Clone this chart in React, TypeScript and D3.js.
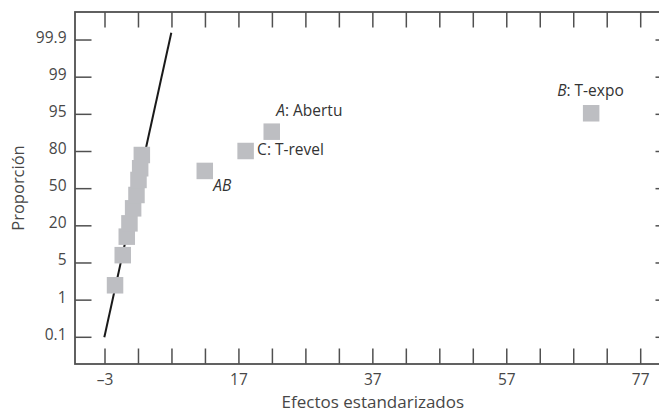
import React from "react";
import * as d3 from "d3";

// ---- data ----
const effects = [-1.5, -0.35, 0.25, 0.65, 1.2, 1.7, 2.0, 2.25, 2.5, 11.9, 18.0, 21.9, 69.6];
const proportions = [2.0, 7.0, 14.1, 21.6, 32.8, 44.3, 57.8, 67.8, 77.7, 65.6, 80.3, 89.8, 95.2];
const pointNames = ["", "", "", "", "", "", "", "", "", "AB", "C", "A", "B"];
const pointDescriptions = ["", "", "", "", "", "", "", "", "", "", "T-revel", "Abertu", "T-expo"];

const yTickValues = [0.1, 1, 5, 20, 50, 80, 95, 99, 99.9];
const xTickValues = [-3, 17, 37, 57, 77];
const xMinorStep = 5;

const fitLineEffects = [-3.1, 6.9];
const fitLineProportions = [0.1, 99.94];

const xTitle = "Efectos estandarizados";
const yTitle = "Proporción";

// label placement (offsets from the marker centre)
const labelOffsets: Record<string, [number, number]> = {
  A: [4.5, -15.5],
  C: [11.5, 4],
  AB: [8.5, 20.5],
  B: [-34, -17],
};

const W = 659;
const H = 412;
const frame = { left: 75, top: 12, right: 672, bottom: 364 };

export default function App() {
  const x = d3.scaleLinear().domain([-3, 77]).range([105, 640.7]);
  const probit = (p: number) => invNorm(p / 100);
  const zTicks = yTickValues.map((p) => probit(p));
  const yPos = yTickValues.map((_, i) => 337.3 - i * 37.16);
  const yz = d3.scaleLinear().domain(zTicks).range(yPos);
  const y = (p: number) => yz(probit(p));

  const minorTicks = d3.range(-3, 78, xMinorStep);
  const tickLen = 15.5;
  const textColor = "#474747";
  const frameColor = "#505050";
  const font = "'Open Sans', 'Noto Sans', sans-serif";

  const linePath = d3
    .line<number>()
    .x((d) => x(fitLineEffects[d]))
    .y((d) => y(fitLineProportions[d]))([0, 1]);

  const sq = 16.5;

  return (
    <svg
      width={W}
      height={H}
      style={{ position: "absolute", left: 0, top: 0, background: "#fff" }}
      fontFamily={font}
    >
      <rect width={W} height={H} fill="#fff" />
      {/* frame */}
      <rect
        x={frame.left}
        y={frame.top}
        width={frame.right - frame.left}
        height={frame.bottom - frame.top}
        fill="none"
        stroke={frameColor}
        strokeWidth={1.8}
      />
      {/* x ticks bottom & top */}
      {minorTicks.map((t) => (
        <g key={"xt" + t}>
          <line x1={x(t)} x2={x(t)} y1={frame.bottom} y2={frame.bottom - tickLen} stroke={frameColor} strokeWidth={1.5} />
          <line x1={x(t)} x2={x(t)} y1={frame.top} y2={frame.top + tickLen} stroke={frameColor} strokeWidth={1.5} />
        </g>
      ))}
      {xTickValues.map((t) => (
        <text key={"xl" + t} x={x(t)} y={384.5} textAnchor="middle" fontSize={15.5} fill={textColor}>
          {t < 0 ? "\u2013" + Math.abs(t) : String(t)}
        </text>
      ))}
      {/* y ticks left & right */}
      {yTickValues.map((p) => (
        <g key={"yt" + p}>
          <line x1={frame.left} x2={frame.left + 16.5} y1={y(p)} y2={y(p)} stroke={frameColor} strokeWidth={1.5} />
          <line x1={frame.right} x2={frame.right - 16.5} y1={y(p)} y2={y(p)} stroke={frameColor} strokeWidth={1.5} />
          <text x={66.5} y={y(p) + 2.5} textAnchor="end" fontSize={15.5} fill={textColor}>
            {String(p)}
          </text>
        </g>
      ))}
      {/* axis titles */}
      <text x={(x(-3) + x(77)) / 2} y={407.5} textAnchor="middle" fontSize={17} fill={textColor}>
        {xTitle}
      </text>
      <text
        transform={`translate(24, 188) rotate(-90)`}
        textAnchor="middle"
        fontSize={16.5}
        fill={textColor}
      >
        {yTitle}
      </text>
      {/* fitted line */}
      <path d={linePath || ""} stroke="#1a1a1a" strokeWidth={2} fill="none" />
      {/* points */}
      {effects.map((e, i) => (
        <rect
          key={"p" + i}
          x={x(e) - sq / 2}
          y={y(proportions[i]) - sq / 2}
          width={sq}
          height={sq}
          fill="#bdbec2"
        />
      ))}
      {/* labels */}
      {effects.map((e, i) => {
        const name = pointNames[i];
        if (!name) return null;
        const off = labelOffsets[name] || [8, 0];
        const desc = pointDescriptions[i];
        return (
          <text
            key={"lab" + i}
            x={x(e) + off[0]}
            y={y(proportions[i]) + off[1]}
            fontSize={15.5}
            fill="#333"
          >
            <tspan fontStyle={name === "C" ? "normal" : "italic"}>{name}</tspan>
            {desc ? <tspan>{": " + desc}</tspan> : null}
          </text>
        );
      })}
    </svg>
  );
}

// inverse standard normal CDF (Acklam's approximation)
function invNorm(p: number): number {
  const a = [-3.969683028665376e1, 2.209460984245205e2, -2.759285104469687e2, 1.38357751867269e2, -3.066479806614716e1, 2.506628277459239];
  const b = [-5.447609879822406e1, 1.615858368580409e2, -1.556989798598866e2, 6.680131188771972e1, -1.328068155288572e1];
  const c = [-7.784894002430293e-3, -3.223964580411365e-1, -2.400758277161838, -2.549732539343734, 4.374664141464968, 2.938163982698783];
  const dd = [7.784695709041462e-3, 3.224671290700398e-1, 2.445134137142996, 3.754408661907416];
  const plow = 0.02425;
  const phigh = 1 - plow;
  let q: number, r: number;
  if (p < plow) {
    q = Math.sqrt(-2 * Math.log(p));
    return (((((c[0] * q + c[1]) * q + c[2]) * q + c[3]) * q + c[4]) * q + c[5]) / ((((dd[0] * q + dd[1]) * q + dd[2]) * q + dd[3]) * q + 1);
  }
  if (p <= phigh) {
    q = p - 0.5;
    r = q * q;
    return ((((((a[0] * r + a[1]) * r + a[2]) * r + a[3]) * r + a[4]) * r + a[5]) * q) / (((((b[0] * r + b[1]) * r + b[2]) * r + b[3]) * r + b[4]) * r + 1);
  }
  q = Math.sqrt(-2 * Math.log(1 - p));
  return -(((((c[0] * q + c[1]) * q + c[2]) * q + c[3]) * q + c[4]) * q + c[5]) / ((((dd[0] * q + dd[1]) * q + dd[2]) * q + dd[3]) * q + 1);
}
